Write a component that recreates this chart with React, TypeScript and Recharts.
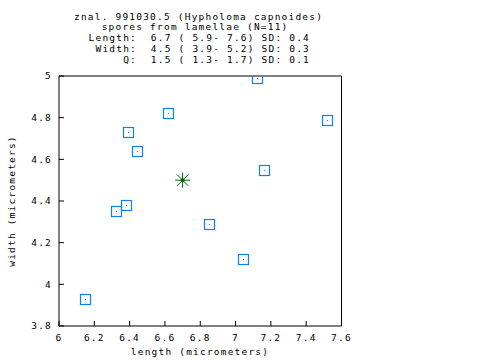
import React from "react";
import { ScatterChart, Scatter, XAxis, YAxis } from "recharts";

const lengths = [7.12, 6.62, 6.39, 6.44, 7.52, 7.16, 6.32, 6.38, 6.85, 7.04, 6.15];
const widths = [4.99, 4.82, 4.73, 4.64, 4.79, 4.55, 4.35, 4.38, 4.29, 4.12, 3.93];
const meanLength = [6.7];
const meanWidth = [4.5];
const xTicks = [6, 6.2, 6.4, 6.6, 6.8, 7, 7.2, 7.4, 7.6];
const yTicks = [3.8, 4, 4.2, 4.4, 4.6, 4.8, 5];
const titleLines = [
  "znal. 991030.5 (Hypholoma capnoides)",
  "spores from lamellae (N=11)",
  "Length:  6.7 ( 5.9- 7.6) SD: 0.4",
  " Width:  4.5 ( 3.9- 5.2) SD: 0.3",
  "     Q:  1.5 ( 1.3- 1.7) SD: 0.1",
];

const points = lengths.map((l, i) => ({ x: l, y: widths[i] }));
const meanPoints = meanLength.map((l, i) => ({ x: l, y: meanWidth[i] }));

const FONT = "'DejaVu Sans Mono', monospace";
const FS = 9.5;
const LS = 1.2;

const Square = (props: any) => {
  const { cx, cy } = props;
  const cxr = Math.round(cx) + 0.5;
  const cyr = Math.round(cy) + 0.5;
  return (
    <g>
      <rect x={cxr - 5} y={cyr - 5} width={10} height={10} fill="none" stroke="#0a80ff" strokeWidth={1.2} />
      <rect x={cxr - 0.5} y={cyr - 0.5} width={1} height={1} fill="#0a80ff" />
    </g>
  );
};

const Star = (props: any) => {
  const { cx, cy } = props;
  const r = 7.5;
  const d = r * 0.75;
  return (
    <g stroke="#006400" strokeWidth={1}>
      <line x1={cx - r} y1={cy} x2={cx + r} y2={cy} />
      <line x1={cx} y1={cy - r} x2={cx} y2={cy + r} />
      <line x1={cx - d} y1={cy - d} x2={cx + d} y2={cy + d} />
      <line x1={cx - d} y1={cy + d} x2={cx + d} y2={cy - d} />
      <circle cx={cx} cy={cy} r={1.5} fill="#006400" />
    </g>
  );
};

const lineX = [74, 101.7, 88.6, 88.6, 88.6];

export default function App() {
  const tickStyle = { fontFamily: FONT, fontSize: FS, fill: "#000", letterSpacing: LS };
  const fmt = (v: number) => String(Math.round(v * 10) / 10);
  return (
    <div style={{ position: "absolute", left: 0, top: 0, width: 480, height: 360, background: "#fff" }}>
      <ScatterChart width={480} height={360} margin={{ top: 75, right: 137.5, bottom: 14, left: 0 }}>
        <XAxis
          xAxisId="b"
          dataKey="x"
          type="number"
          domain={[6, 7.6]}
          ticks={xTicks}
          allowDataOverflow
          height={20}
          stroke="#000"
          tickSize={-5}
          tickMargin={13}
          tick={tickStyle}
          tickFormatter={fmt}
        />
        <XAxis
          xAxisId="t"
          orientation="top"
          type="number"
          domain={[6, 7.6]}
          ticks={xTicks}
          allowDataOverflow
          height={1}
          stroke="#000"
          tickSize={-5}
          tick={false}
        />
        <YAxis
          yAxisId="l"
          dataKey="y"
          type="number"
          domain={[3.8, 5]}
          ticks={yTicks}
          allowDataOverflow
          width={59}
          stroke="#000"
          tickSize={-5}
          tickMargin={12}
          tick={tickStyle}
          tickFormatter={fmt}
        />
        <YAxis
          yAxisId="r"
          orientation="right"
          type="number"
          domain={[3.8, 5]}
          ticks={yTicks}
          allowDataOverflow
          width={1}
          stroke="#000"
          tickSize={-5}
          tick={false}
        />
        <Scatter xAxisId="b" yAxisId="l" data={points} shape={Square} isAnimationActive={false} />
        <Scatter xAxisId="b" yAxisId="l" data={meanPoints} shape={Star} isAnimationActive={false} />
        <Scatter xAxisId="t" yAxisId="r" data={[]} isAnimationActive={false} />
        {titleLines.map((t, i) => (
          <text
            key={i}
            x={lineX[i]}
            y={19.5 + i * 10.75}
            fontFamily={FONT}
            fontSize={FS}
            letterSpacing={LS}
            fill="#000"
            style={{ whiteSpace: "pre" }}
            xmlSpace="preserve"
          >
            {t}
          </text>
        ))}
        <text x={200} y={355} textAnchor="middle" fontFamily={FONT} fontSize={FS} letterSpacing={LS} fill="#000">
          length (micrometers)
        </text>
        <text
          x={15}
          y={201}
          textAnchor="middle"
          fontFamily={FONT}
          fontSize={FS}
          letterSpacing={LS}
          fill="#000"
          transform="rotate(-90 15 201)"
        >
          width (micrometers)
        </text>
      </ScatterChart>
    </div>
  );
}
